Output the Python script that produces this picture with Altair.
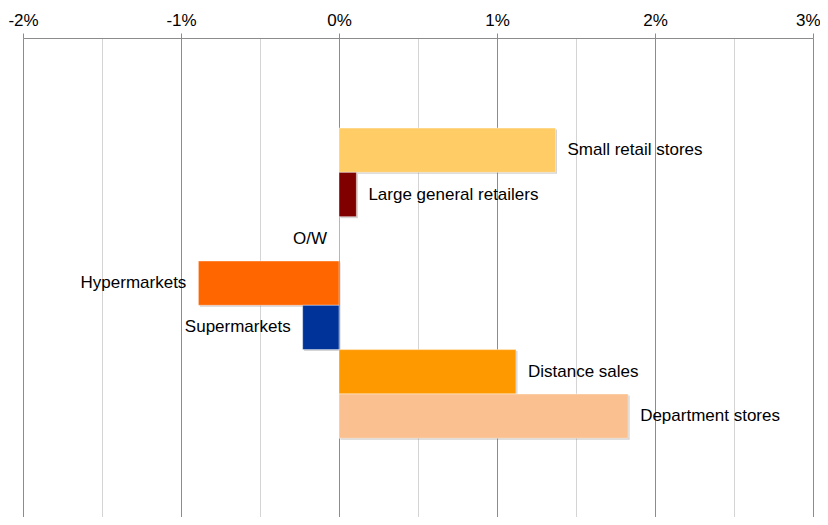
import altair as alt
import pandas as pd

categories = ["Small retail stores", "Large general retailers", "O/W", "Hypermarkets",
              "Supermarkets", "Distance sales", "Department stores"]
values = [1.37, 0.11, 0.0, -0.89, -0.23, 1.12, 1.83]
colors = ["#FFCC66", "#800000", "#FFFFFF", "#FF6600", "#003399", "#FF9900", "#FAC090"]
tick_values = [-2, -1.5, -1, -0.5, 0, 0.5, 1, 1.5, 2, 2.5, 3]
# empty slots of the category axis (above and below the bars)
blank_top = ["_blank1", "_blank2"]
blank_bottom = ["_blank3"]

df = pd.DataFrame({"cat": categories, "val": values, "color": colors})

FONT = "Liberation Sans"

xscale = alt.Scale(domain=[-2, 3], nice=False, zero=False)
yscale = alt.Scale(domain=blank_top + categories + blank_bottom,
                   paddingInner=0, paddingOuter=0.405, align=0.04)

xaxis = alt.Axis(
    orient="top", values=tick_values, title=None,
    labelExpr="datum.value % 1 === 0 ? datum.value + '%' : ''",
    labelFlush=False,
    labelAlign={"condition": {"test": "datum.value === 3", "value": "right"}, "value": "center"},
    labelOffset={"condition": {"test": "datum.value === 3", "value": 7}, "value": 0},
    grid=True,
    gridColor={"condition": {"test": "datum.value % 1 === 0", "value": "#8c8c8c"}, "value": "#d4d4d4"},
    tickOpacity={"condition": {"test": "datum.value % 1 === 0", "value": 1}, "value": 0},
    tickColor="#8c8c8c",
    tickSize=5, labelPadding=4, domainColor="#8c8c8c",
    labelFont=FONT, labelFontSize=17, labelColor="#000000",
)

X = alt.X("val:Q", scale=xscale, axis=xaxis)
Y = alt.Y("cat:N", scale=yscale, axis=None)

base = alt.Chart(df)

shadow = base.mark_bar(color="#808080", opacity=0.35, xOffset=1.5, x2Offset=1.5,
                       yOffset=1.5, y2Offset=1.5).encode(x=X, y=Y)

bars = base.mark_bar(stroke="#ffffff", strokeWidth=0.6, strokeOpacity=0.7).encode(
    x=X, y=Y, color=alt.Color("color:N", scale=None),
)

pos_labels = base.transform_filter("datum.val > 0").mark_text(
    align="left", baseline="middle", dx=12, font=FONT, fontSize=17, color="#000000"
).encode(x=X, y=Y, text="cat:N")

neg_labels = base.transform_filter("datum.val <= 0").mark_text(
    align="right", baseline="middle", dx=-12, font=FONT, fontSize=17, color="#000000"
).encode(x=X, y=Y, text="cat:N")

chart = alt.layer(shadow, bars, pos_labels, neg_labels).properties(
    width=790, height=479,
    autosize=alt.AutoSizeParams(type="none"),
    padding={"left": 15, "top": 30, "right": 7, "bottom": 0},
    background="white",
).configure_view(strokeWidth=0)

chart.save("out.html", embed_options={"renderer": "svg", "actions": False})
